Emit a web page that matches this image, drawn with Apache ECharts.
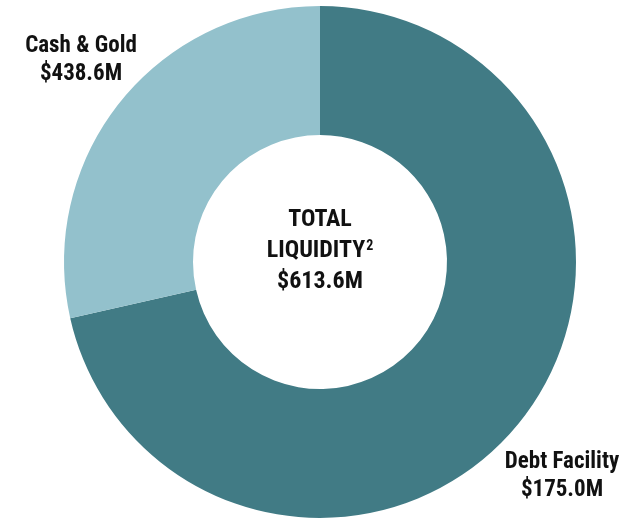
<!DOCTYPE html>
<html>
<head>
<meta charset="utf-8">
<script src="https://cdn.jsdelivr.net/npm/echarts@6/dist/echarts.min.js"></script>
<style>
html,body{margin:0;padding:0;background:#fff;}
#chart{width:632px;height:520px;}
</style>
</head>
<body>
<div id="chart"></div>
<script>
// Slice names (order clockwise from 12 o'clock)
var categories = ['Debt Facility', 'Cash & Gold'];
// Arc sizes as drawn in the reference ($M)
var sliceValues = [438.6, 175.0];
// Amount text printed next to each slice
var labelAmounts = ['$175.0M', '$438.6M'];
// Centre text
var centerTitle = ['TOTAL', 'LIQUIDITY'];
var centerNote = '2';
var centerTotal = '$613.6M';
var colors = ['#417b85', '#93c1cc'];

var labelPos = [[562, 476], [81, 60]];

var chart = echarts.init(document.getElementById('chart'));
var FONT = '"Roboto Condensed", Roboto, sans-serif';
chart.setOption({
  animation: false,
  series: [{
    type: 'pie',
    center: [320, 262],
    radius: [127, 256],
    startAngle: 90,
    clockwise: true,
    avoidLabelOverlap: false,
    itemStyle: { borderWidth: 0 },
    emphasis: { disabled: true },
    data: categories.map(function (c, i) {
      return { name: c, value: sliceValues[i], itemStyle: { color: colors[i] } };
    }),
    label: {
      show: true,
      position: 'outside',
      formatter: function (p) {
        return p.name + '\n' + labelAmounts[p.dataIndex];
      },
      fontFamily: FONT,
      fontWeight: 'bold',
      fontSize: 23,
      lineHeight: 28,
      color: '#111',
      align: 'center'
    },
    labelLine: { show: false },
    labelLayout: function (params) {
      var p = labelPos[params.dataIndex];
      return { x: p[0], y: p[1], align: 'center', verticalAlign: 'middle' };
    }
  }],
  graphic: [{
    type: 'text',
    x: 320,
    y: 251,
    style: {
      text: '{m|' + centerTitle[0] + '}\n{m|' + centerTitle[1] + '}{s|' + centerNote + '}\n{m|' + centerTotal + '}',
      fontFamily: FONT,
      fontWeight: 'bold',
      fontSize: 24,
      fill: '#111',
      align: 'center',
      verticalAlign: 'middle',
      rich: {
        m: { fontFamily: FONT, fontWeight: 'bold', fontSize: 24, lineHeight: 31, fill: '#111' },
        s: { fontFamily: FONT, fontWeight: 'bold', fontSize: 14, lineHeight: 31, fill: '#111', padding: [0, 0, 10, 1] }
      }
    }
  }]
});
</script>
</body>
</html>
